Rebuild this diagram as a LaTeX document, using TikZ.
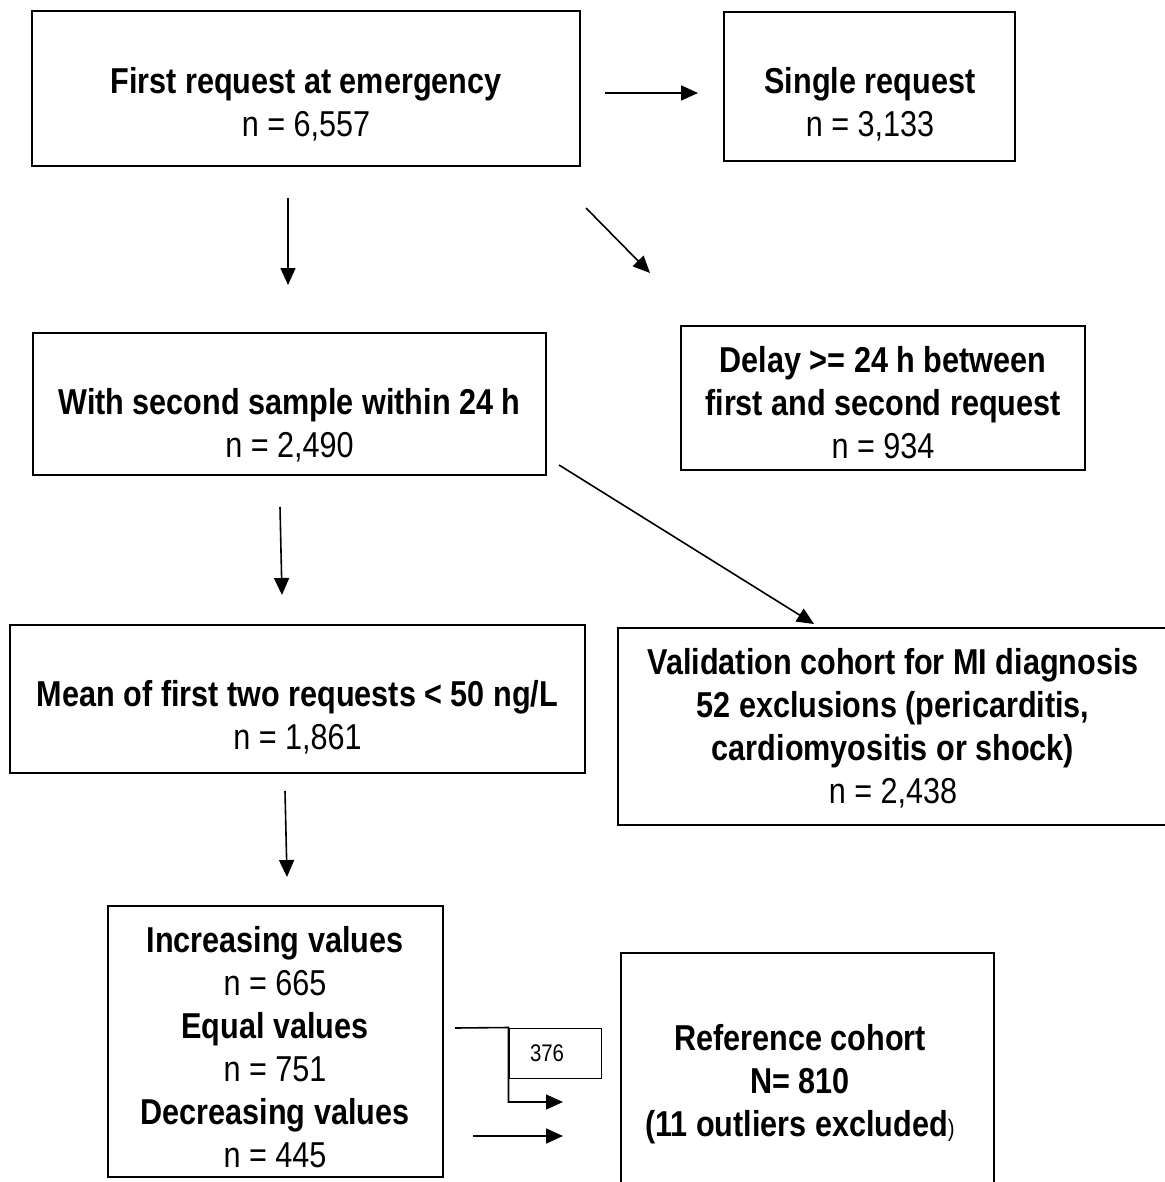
\documentclass[tikz,border=0pt]{standalone}
\usepackage{fontspec}
\setmainfont{Liberation Sans}[FakeStretch=0.85]
\usetikzlibrary{arrows.meta}
\tikzstyle{block} = [draw, rectangle, line width=0.85pt, inner sep=0pt]
\tikzstyle{blocktext} = [align=center, anchor=north, inner sep=0pt,
                         font=\fontsize{18pt}{21.5pt}\selectfont]
\tikzstyle{countbox} = [draw, rectangle, line width=0.5pt, minimum width=46pt,
                        minimum height=25pt, inner xsep=10.5pt, text width=25pt,
                        align=left, font=\fontsize{12pt}{14pt}\selectfont]
\tikzstyle{link} = [line width=0.8pt]

\begin{document}
\begin{tikzpicture}[x=0.5pt, y=-0.5pt, >={Triangle[length=8.5pt,width=7.5pt]}]

% background
\fill[white] (0,0) rectangle (1164,1182);
\useasboundingbox (0,0) rectangle (1164,1182);

% add boxes
\node [block, minimum width=274pt, minimum height=77.5pt] (first)  at (306,88.5)   {};
\node [block, minimum width=145.5pt, minimum height=74.5pt] (single) at (869.5,86.5) {};
\node [block, minimum width=256.5pt, minimum height=71pt] (second) at (289.5,404)  {};
\node [block, minimum width=202pt, minimum height=72pt] (delay)  at (883,398)    {};
\node [block, minimum width=287.5pt, minimum height=74pt] (mean)   at (297.5,699)  {};
\node [block, minimum width=275pt, minimum height=98.5pt] (valid)  at (893,726.5)  {};
\node [block, minimum width=167.5pt, minimum height=135.5pt] (values) at (275.5,1041.5) {};
\node [block, minimum width=186.5pt, minimum height=128.5pt] (refco)  at (807.5,1081.5) {};
\node [countbox] (n376) at (555,1053) {376};

% add texts
\node [blocktext] (first-t) at (306,67) {\textbf{First request at emergency}\\ n = 6,557};
\node [blocktext] (single-t) at (870,67) {\textbf{Single request}\\ n = 3,133};
\node [blocktext] (second-t) at (289.5,388) {\textbf{With second sample within 24 h}\\ n = 2,490};
\node [blocktext] (delay-t) at (883,346) {\textbf{Delay >= 24 h between}\\
                                         \textbf{first and second request}\\ n = 934};
\node [blocktext] (mean-t) at (297.5,680) {\textbf{Mean of first two requests < 50 ng/L}\\ n = 1,861};
\node [blocktext] (valid-t) at (893,648) {\textbf{Validation cohort for MI diagnosis}\\
                                         \textbf{52 exclusions (pericarditis,}\\
                                         \textbf{cardiomyositis or shock)}\\ n = 2,438};
\node [blocktext] (values-t) at (275,926) {\textbf{Increasing values}\\ n = 665\\
                                          \textbf{Equal values}\\ n = 751\\
                                          \textbf{Decreasing values}\\ n = 445};
\node [blocktext] (refco-t) at (800,1024) {\textbf{Reference cohort}\\ \textbf{N= 810}\\
                  \textbf{(11 outliers excluded}{\fontsize{12pt}{12pt}\selectfont)}};

% arrow ends
\coordinate (first-r) at (605,93);
\coordinate (single-l) at (698,93);
\coordinate (first-b) at (288,198);
\coordinate (second-t) at (288,285);
\coordinate (first-d) at (586,208);
\coordinate (delay-t) at (650,273);
\coordinate (second-b) at (280,507);
\coordinate (mean-t) at (282,595);
\coordinate (second-d) at (559,465);
\coordinate (valid-t) at (814,624);
\coordinate (mean-b) at (285,791);
\coordinate (values-t) at (287,877);
\coordinate (equal-r) at (455,1028);
\coordinate (equal-in) at (563,1102);
\coordinate (decr-r) at (473,1136);
\coordinate (decr-in) at (563,1136);

% add connections
\draw[link, ->] (first-r) -- (single-l);
\draw[link, ->] (first-b) -- (second-t);
\draw[link, ->] (first-d) -- (delay-t);
\draw[link, ->] (second-b) -- (mean-t);
\draw[link, ->] (second-d) -- (valid-t);
\draw[link, ->] (mean-b) -- (values-t);
\draw[link, ->] (equal-r) -- (n376.north west) |- (equal-in);
\draw[link, ->] (decr-r) -- (decr-in);

\end{tikzpicture}
\end{document}
